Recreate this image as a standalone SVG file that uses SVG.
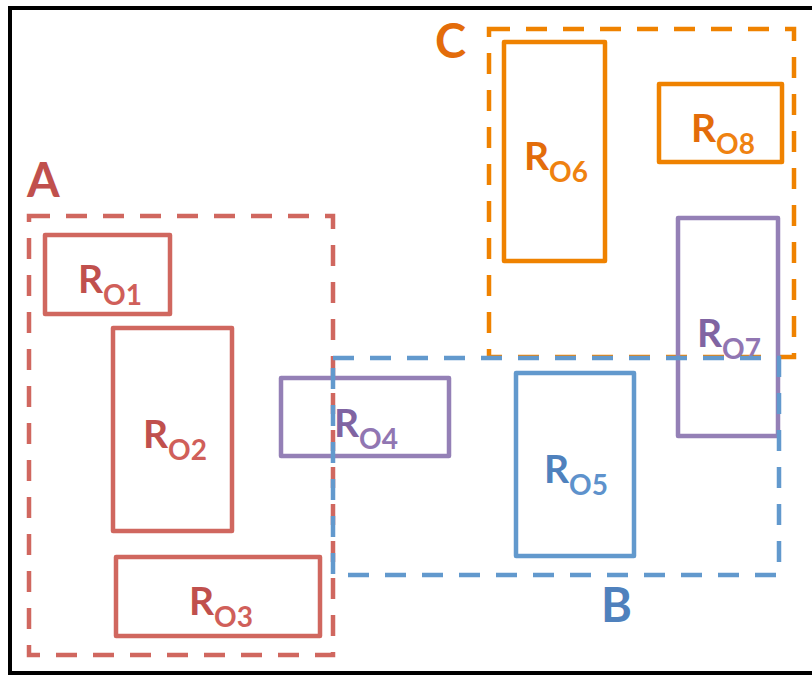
<svg xmlns="http://www.w3.org/2000/svg" width="812" height="675" viewBox="0 0 812 675">
<style>
text{font-family:Lato,"Open Sans","Liberation Sans",sans-serif;font-weight:bold}
.r{font-size:39px}
.s{font-size:28px}
.lbl{font-size:47px}
.box{fill:none;stroke-width:4.5;stroke-linejoin:round}
.grp{fill:none;stroke-width:4.5;stroke-dasharray:21 16}
.red{stroke:#D0675F}.org{stroke:#EF8200}.pur{stroke:#9480B6}.blu{stroke:#6299CD}
</style>
<rect x="10" y="8" width="830" height="665" fill="#fff" stroke="#000" stroke-width="4"/>
<g id="groupA">
<rect class="grp red" x="29" y="216" width="304" height="439"/>
<text class="lbl" x="27" y="197" fill="#C0504D">A</text>
</g>
<g id="RO1"><rect class="box red" x="45" y="235" width="125" height="79"/><text x="78" y="293" fill="#C0504D"><tspan class="r">R</tspan><tspan class="s" dy="12" fill="#D05F5A">O1</tspan></text></g>
<g id="RO2"><rect class="box red" x="113" y="328" width="119" height="203"/><text x="143" y="448" fill="#C0504D"><tspan class="r">R</tspan><tspan class="s" dy="12" fill="#D05F5A">O2</tspan></text></g>
<g id="RO3"><rect class="box red" x="116" y="557" width="204" height="79"/><text x="189" y="615" fill="#C0504D"><tspan class="r">R</tspan><tspan class="s" dy="12" fill="#D05F5A">O3</tspan></text></g>
<g id="groupC">
<rect class="grp org" x="489" y="29" width="305" height="328"/>
<text class="lbl" x="435" y="58" fill="#E36C0A">C</text>
</g>
<g id="RO6"><rect class="box org" x="504" y="42" width="101" height="219"/><text x="524" y="170" fill="#E36C0A"><tspan class="r">R</tspan><tspan class="s" dy="12" fill="#EF8210">O6</tspan></text></g>
<g id="RO8"><rect class="box org" x="659" y="84" width="123" height="78"/><text x="691" y="142" fill="#E36C0A"><tspan class="r">R</tspan><tspan class="s" dy="12" fill="#EF8210">O8</tspan></text></g>
<g id="RO7"><rect class="box pur" x="678" y="218" width="100" height="218"/><text x="697" y="347" fill="#8064A2"><tspan class="r">R</tspan><tspan class="s" dy="12" fill="#9176B2">O7</tspan></text></g>
<g id="RO4"><rect class="box pur" x="281" y="378" width="168" height="78"/><text x="334" y="437" fill="#8064A2"><tspan class="r">R</tspan><tspan class="s" dy="12" fill="#9176B2">O4</tspan></text></g>
<g id="RO5"><rect class="box blu" x="516" y="373" width="118" height="183"/><text x="544" y="483" fill="#4F81BD"><tspan class="r">R</tspan><tspan class="s" dy="12" fill="#5E92CC">O5</tspan></text></g>
<g id="groupB">
<rect class="grp blu" x="333" y="358" width="446" height="217"/>
<text class="lbl" x="601" y="622" fill="#4F81BD">B</text>
</g>
<g id="connectors"></g>
</svg>
